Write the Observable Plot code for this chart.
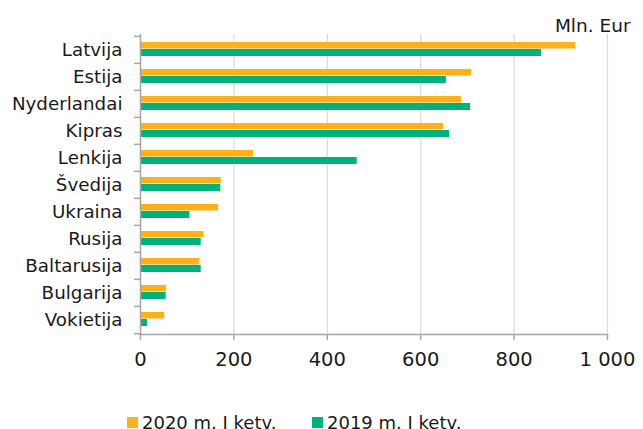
<!DOCTYPE html>
<html>
<head>
<meta charset="utf-8">
<script src="https://cdn.jsdelivr.net/npm/d3@7"></script>
<script src="https://cdn.jsdelivr.net/npm/@observablehq/plot@0.6"></script>
<style>
  html, body { margin: 0; padding: 0; background: #fff; }
  body { width: 643px; height: 429px; overflow: hidden; font-family: "DejaVu Sans", Verdana, sans-serif; color: #1a1a1a; }
  #legend { position: relative; height: 29px; }
  .item { position: absolute; top: 12px; display: flex; align-items: center; font-size: 18px; white-space: nowrap; }
  .sw { width: 11px; height: 11px; margin-right: 4px; }
</style>
</head>
<body>
<div id="chart"></div>
<div id="legend"></div>
<script>
const countries = ["Latvija", "Estija", "Nyderlandai", "Kipras", "Lenkija", "Švedija", "Ukraina", "Rusija", "Baltarusija", "Bulgarija", "Vokietija"];
const series = ["2020 m. I ketv.", "2019 m. I ketv."];
const values2020 = [932, 709, 688, 649, 242, 173, 167, 136, 127, 56, 52];
const values2019 = [859, 655, 707, 662, 464, 172, 106, 130, 130, 55, 15];
const xTicks = [0, 200, 400, 600, 800, 1000];
const colors = ["#FDB017", "#00B27A"];
const unitLabel = "Mln. Eur";

const d2020 = countries.map((c, i) => ({country: c, value: values2020[i], series: series[0]}));
const d2019 = countries.map((c, i) => ({country: c, value: values2019[i], series: series[1]}));

const fmt = d => d3.format(",")(d).replace(/,/g, " ");
const axisColor = "#a6a6a6";

const chart = Plot.plot({
  width: 643,
  height: 400,
  marginTop: 34,
  marginBottom: 66,
  marginLeft: 140,
  marginRight: 36,
  style: {fontFamily: "DejaVu Sans, Verdana, sans-serif", color: "#1a1a1a", background: "#fff"},
  x: {domain: [0, 1000], label: null},
  y: {domain: countries, padding: 0, label: null},
  color: {domain: series, range: colors},
  marks: [
    Plot.gridX(xTicks, {stroke: "#d9d9d9", strokeOpacity: 1, strokeWidth: 1.2}),
    Plot.barX(d2020, {y: "country", x: "value", fill: colors[0], insetTop: 6, insetBottom: 14.5}),
    Plot.barX(d2019, {y: "country", x: "value", fill: colors[1], insetTop: 13, insetBottom: 7}),
    Plot.frame({anchor: "left", stroke: axisColor, strokeWidth: 1.5}),
    Plot.frame({anchor: "bottom", stroke: axisColor, strokeWidth: 1.5}),
    Plot.axisY({tickSize: 6, text: null, label: null, stroke: axisColor, strokeWidth: 1.5, dy: -300 / 22}),
    Plot.axisY({ticks: [countries[countries.length - 1]], tickSize: 6, text: null, label: null, stroke: axisColor, strokeWidth: 1.5, dy: 300 / 22}),
    Plot.axisY({tickSize: 0, tickPadding: 18, fontSize: 18.3, label: null, fill: "#1a1a1a"}),
    Plot.axisX(xTicks, {tickSize: 6, tickPadding: 12, fontSize: 19.5, tickFormat: fmt, label: null, stroke: axisColor, strokeWidth: 1.5, fill: "#1a1a1a"}),
    Plot.text([unitLabel], {frameAnchor: "top-right", text: d => d, textAnchor: "end", dx: 23, dy: -16, fontSize: 18.5, fill: "#1a1a1a"})
  ]
});
document.getElementById("chart").appendChild(chart);

const legend = document.getElementById("legend");
const lefts = [127, 312];
series.forEach((s, i) => {
  const item = document.createElement("div");
  item.className = "item";
  item.style.left = lefts[i] + "px";
  const sw = document.createElement("span");
  sw.className = "sw";
  sw.style.background = colors[i];
  const t = document.createElement("span");
  t.textContent = s;
  item.appendChild(sw);
  item.appendChild(t);
  legend.appendChild(item);
});
</script>
</body>
</html>
